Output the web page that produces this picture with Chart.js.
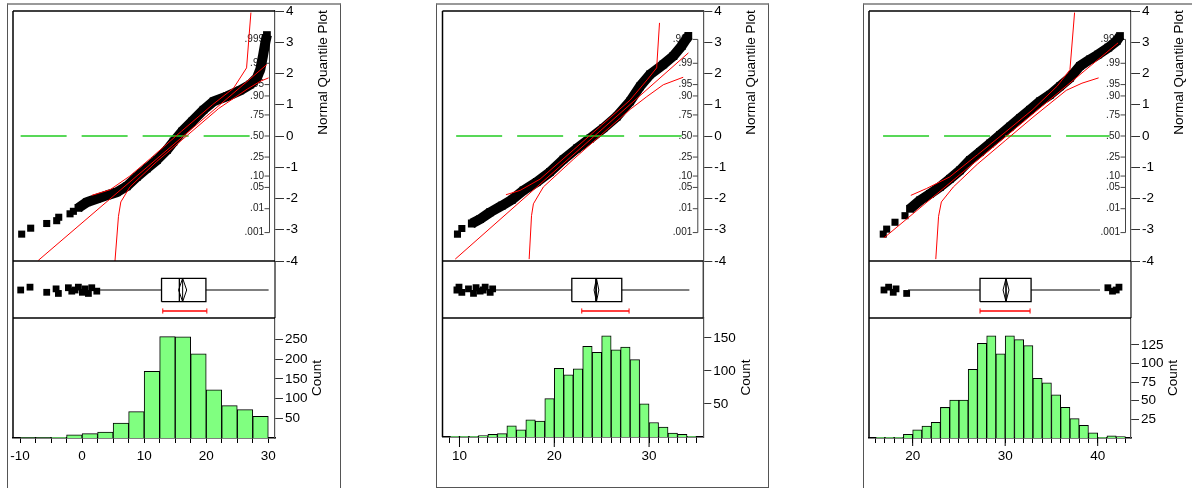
<!DOCTYPE html>
<html>
<head>
<meta charset="utf-8">
<title>Distributions</title>
<script src="https://cdn.jsdelivr.net/npm/chart.js@4.4.1/dist/chart.umd.min.js"></script>
<style>
  html, body { margin: 0; padding: 0; background: #fff; }
  body { position: relative; width: 1192px; height: 488px; overflow: hidden; }
  canvas { position: absolute; }
  .frame { position: absolute; box-sizing: border-box; border: 1px solid #555; border-top: 2px solid #999; }
</style>
</head>
<body>
<div class="frame" style="left:7px; top:3px; width:334px; height:560px;"></div>
<div class="frame" style="left:436px; top:3px; width:333px; height:485px;"></div>
<div class="frame" style="left:863px; top:3px; width:400px; height:560px;"></div>
<script>
// ---------- panel 1 ----------
const hist1Edges = [-10, -7.5, -5, -2.5, 0, 2.5, 5, 7.5, 10, 12.5, 15, 17.5, 20, 22.5, 25, 27.5, 30];
const hist1Counts = [1, 1, 2, 8, 11, 15, 38, 67, 169, 257, 256, 213, 122, 82, 72, 55];
const hist1Labels = [-10, 0, 10, 20, 30];
const count1Ticks = [50, 100, 150, 200, 250];

const quant1TailV = [-9.73, -8.28, -5.7, -4.09, -3.76, -1.94, -1.4];
const quant1TailQ = [-3.14, -2.95, -2.80, -2.71, -2.60, -2.49, -2.41];
const quant1V = [-0.59, 0.75, 2.37, 3.98, 5.59, 7.2, 8.82, 10.43, 12.05, 13.66, 14.73, 16.08, 17.69, 19.57, 21.18, 23.33, 25.48, 27.1, 28.17, 28.71, 29.14, 29.52, 29.78];
const quant1Q = [-2.30, -2.12, -2.01, -1.90, -1.80, -1.61, -1.31, -1.04, -0.77, -0.45, -0.18, 0.14, 0.46, 0.84, 1.11, 1.27, 1.46, 1.65, 1.86, 2.13, 2.56, 2.99, 3.23];
const fit1V = [-7.05, 29.78];
const fit1Q = [-3.98, 2.29];
const upper1V = [1.56, 4.5, 7.7, 11, 16, 21, 24.4, 26.5, 27.2];
const upper1Q = [-1.90, -1.72, -1.28, -0.72, 0.15, 1.0, 1.53, 2.18, 3.95];
const lower1V = [5.3, 5.86, 6.24, 7.7, 12, 17, 22, 26.6, 28.7, 30.05];
const lower1Q = [-4.0, -2.57, -2.11, -1.63, -0.82, 0.03, 0.88, 1.50, 1.75, 1.86];
const ref1V = [-9.9, 27.1];

const box1Stats = [2.9, 12.8, 15.67, 19.95, 30.05];   // whisker lo, q1, median, q3, whisker hi
const diamond1 = [15.55, 16.2, 16.85];
const short1 = [13.0, 20.1];
const outliers1 = [-9.89, -8.39, -5.7, -4.19, -3.82, -2.21, -1.66, -1.13, -0.6, 0.05, 0.48, 1.02, 1.56, 2.37];

// ---------- panel 2 ----------
const hist2Edges = [9, 10, 11, 12, 13, 14, 15, 16, 17, 18, 19, 20, 21, 22, 23, 24, 25, 26, 27, 28, 29, 30, 31, 32, 33, 34, 35];
const hist2Counts = [1, 1, 1, 2, 4, 5, 17, 11, 26, 24, 58, 104, 94, 103, 137, 128, 153, 132, 136, 117, 50, 22, 15, 6, 4, 1];
const hist2Labels = [10, 20, 30];
const count2Ticks = [50, 100, 150];

const quant2TailV = [9.79, 10.25];
const quant2TailQ = [-3.14, -2.96];
const quant2V = [11.3, 12.18, 13.24, 14.47, 15.52, 16.75, 18.16, 19.56, 20.97, 22.38, 23.78, 25.18, 26.59, 28.0, 29.05, 30.1, 31.5, 32.56, 33.44, 34.14];
const quant2Q = [-2.80, -2.66, -2.44, -2.23, -2.04, -1.74, -1.47, -1.15, -0.75, -0.40, -0.08, 0.25, 0.62, 1.11, 1.59, 1.97, 2.29, 2.56, 2.88, 3.20];
const fit2V = [9.55, 34.15];
const fit2Q = [-3.94, 2.66];
const upper2V = [14.9, 16.4, 18.5, 22, 25, 28, 29.8, 30.8, 31.1];
const upper2Q = [-1.88, -1.74, -1.38, -0.45, 0.35, 1.15, 1.8, 2.18, 3.62];
const lower2V = [17.35, 17.6, 17.8, 18.85, 22, 25, 28, 29.76, 31.5, 33.6];
const lower2Q = [-3.94, -2.55, -2.17, -1.63, -0.75, 0.05, 0.85, 1.26, 1.64, 1.88];
const ref2V = [9.65, 33.45];

const box2Stats = [13.76, 21.85, 24.38, 27.12, 34.25];
const diamond2 = [24.2, 24.45, 24.7];
const short2 = [22.9, 27.89];
const outliers2 = [9.73, 9.95, 10.25, 10.95, 11.48, 11.75, 12.18, 12.5, 12.71, 13.24, 13.5];

// ---------- panel 3 ----------
const hist3Edges = [16, 17, 18, 19, 20, 21, 22, 23, 24, 25, 26, 27, 28, 29, 30, 31, 32, 33, 34, 35, 36, 37, 38, 39, 40, 41, 42, 43];
const hist3Counts = [1, 1, 1, 5, 11, 16, 21, 41, 51, 51, 92, 127, 137, 113, 137, 132, 124, 80, 74, 58, 41, 26, 17, 7, 1, 3, 2];
const hist3Labels = [20, 30, 40];
const count3Ticks = [25, 50, 75, 100, 125];

const quant3TailV = [16.82, 17.19, 18.09, 19.17];
const quant3TailQ = [-3.14, -2.98, -2.76, -2.55];
const quant3V = [19.71, 20.79, 21.87, 22.95, 24.03, 25.11, 26.19, 27.28, 28.36, 29.44, 30.52, 31.6, 32.68, 33.76, 34.84, 35.92, 37.0, 38.08, 39.16, 40.06, 41.15, 42.05, 42.41];
const quant3Q = [-2.33, -2.06, -1.85, -1.63, -1.37, -1.10, -0.77, -0.51, -0.24, 0.03, 0.30, 0.57, 0.84, 1.11, 1.32, 1.59, 1.86, 2.24, 2.45, 2.61, 2.83, 3.04, 3.20];
const fit3V = [16.9, 42.2];
const fit3Q = [-3.26, 2.98];
const upper3V = [19.8, 21.5, 24.0, 27, 30, 33, 35.6, 37.0, 37.5];
const upper3Q = [-1.9, -1.68, -1.31, -0.6, 0.12, 0.85, 1.59, 2.12, 3.95];
const lower3V = [22.5, 22.8, 23.1, 24.4, 27, 30, 33, 36.6, 38.3, 40.1];
const lower3Q = [-3.94, -2.57, -2.11, -1.63, -0.9, -0.15, 0.6, 1.46, 1.69, 1.86];
const ref3V = [16.8, 41.3];

const box3Stats = [19.5, 27.28, 30.09, 32.8, 40.25];
const diamond3 = [29.77, 30.09, 30.41];
const short3 = [27.28, 32.69];
const outliers3 = [16.9, 17.4, 17.9, 18.2, 19.35, 41.1, 41.6, 42.0, 42.3];

// probability scale shown inside the quantile plot
const probLevels = [0.001, 0.01, 0.05, 0.10, 0.25, 0.50, 0.75, 0.90, 0.95, 0.99, 0.999];
const probLabels = ['.001', '.01', '.05', '.10', '.25', '.50', '.75', '.90', '.95', '.99', '.999'];

const FONT = 'Arial, "Liberation Sans", sans-serif';
Chart.defaults.font.family = FONT;
Chart.defaults.font.size = 13.5;
Chart.defaults.color = '#000';
Chart.defaults.animation = false;
Chart.defaults.events = [];
Chart.defaults.plugins.legend.display = false;
Chart.defaults.plugins.tooltip.enabled = false;

// layout of the three panels (pixels)
const Q_TOP = 11, Q_BOT = 261, B_BOT = 318;
const panels = [
  { canvasR: 340, plotL: 13, plotR: 275, histBot: 438, xMin: -11.13, xMax: 31.08, countMax: 304, minorLen: 5, majorLen: 5,
    edges: hist1Edges, counts: hist1Counts, labels: hist1Labels, countTicks: count1Ticks,
    bandV: quant1V, bandQ: quant1Q, tailV: quant1TailV, tailQ: quant1TailQ, fitV: fit1V, fitQ: fit1Q,
    upV: upper1V, upQ: upper1Q, loV: lower1V, loQ: lower1Q, refV: ref1V,
    box: box1Stats, diamond: diamond1, shortest: short1, outliers: outliers1 },
  { canvasR: 768, plotL: 442.5, plotR: 703.3, histBot: 437, xMin: 8.21, xMax: 35.72, countMax: 180, minorLen: 6, majorLen: 10,
    edges: hist2Edges, counts: hist2Counts, labels: hist2Labels, countTicks: count2Ticks,
    bandV: quant2V, bandQ: quant2Q, tailV: quant2TailV, tailQ: quant2TailQ, fitV: fit2V, fitQ: fit2Q,
    upV: upper2V, upQ: upper2Q, loV: lower2V, loQ: lower2Q, refV: ref2V,
    box: box2Stats, diamond: diamond2, shortest: short2, outliers: outliers2 },
  { canvasR: 1192, plotL: 869, plotR: 1131, histBot: 438, xMin: 15.28, xMax: 43.6, countMax: 161, minorLen: 5, majorLen: 8,
    edges: hist3Edges, counts: hist3Counts, labels: hist3Labels, countTicks: count3Ticks,
    bandV: quant3V, bandQ: quant3Q, tailV: quant3TailV, tailQ: quant3TailQ, fitV: fit3V, fitQ: fit3Q,
    upV: upper3V, upQ: upper3Q, loV: lower3V, loQ: lower3Q, refV: ref3V,
    box: box3Stats, diamond: diamond3, shortest: short3, outliers: outliers3 }
];

// box plot vertical levels (fraction of the box strip)
const BOX_TOP = 0.696, BOX_BOT = 0.286, BOX_MID = 0.491, SHORT_Y = 0.123, CAP = 0.045;
const JITTER = [0, 0.05, -0.04, 0.02, -0.06, 0.04, -0.02];

function invNorm(p) {
  // Abramowitz & Stegun 26.2.23
  const lowSide = p < 0.5;
  const pp = lowSide ? p : 1 - p;
  const t = Math.sqrt(-2 * Math.log(pp));
  const z = t - (2.515517 + 0.802853 * t + 0.010328 * t * t) / (1 + 1.432788 * t + 0.189269 * t * t + 0.001308 * t * t * t);
  return lowSide ? -z : z;
}

function pts(xs, ys) {
  return xs.map((x, i) => ({ x: x, y: ys[i] }));
}

function addCanvas(left, top, w, h) {
  const c = document.createElement('canvas');
  c.width = w; c.height = h;
  c.style.left = left + 'px';
  c.style.top = top + 'px';
  c.style.width = w + 'px';
  c.style.height = h + 'px';
  document.body.appendChild(c);
  return c;
}

function line(ctx, x0, y0, x1, y1, color, width) {
  ctx.save();
  ctx.strokeStyle = color;
  ctx.lineWidth = width;
  ctx.beginPath();
  ctx.moveTo(x0, y0);
  ctx.lineTo(x1, y1);
  ctx.stroke();
  ctx.restore();
}

function rotText(ctx, text, x, y) {
  ctx.save();
  ctx.translate(x, y);
  ctx.rotate(-Math.PI / 2);
  ctx.font = '13.5px ' + FONT;
  ctx.fillStyle = '#000';
  ctx.textAlign = 'center';
  ctx.textBaseline = 'middle';
  ctx.fillText(text, 0, 0);
  ctx.restore();
}

function lineSet(data, color, width, order, extra) {
  return Object.assign({ data: data, showLine: true, borderColor: color, borderWidth: width, pointRadius: 0, fill: false, order: order }, extra || {});
}

function quantileChart(p) {
  const cl = Math.round(p.plotL) - 12, ct = -10;
  const cw = p.canvasR - cl, ch = 290;
  const canvas = addCanvas(cl, ct, cw, ch);
  const areaR = p.plotR - cl;
  new Chart(canvas, {
    type: 'scatter',
    data: {
      datasets: [
        lineSet(pts(p.fitV, p.fitQ), '#ff0000', 1, 0),
        lineSet(pts(p.upV, p.upQ), '#ff0000', 1, 0),
        lineSet(pts(p.loV, p.loQ), '#ff0000', 1, 0),
        lineSet(pts(p.refV, [0, 0]), '#22cc22', 1.3, 1, { borderDash: [46, 15] }),
        lineSet(pts(p.bandV, p.bandQ), '#000', 10, 2, { pointStyle: 'rect', pointRadius: 5.5, pointBackgroundColor: '#000', pointBorderWidth: 0, borderJoinStyle: 'bevel' }),
        { data: pts(p.tailV, p.tailQ), showLine: false, pointStyle: 'rect', pointRadius: 5, pointBackgroundColor: '#000', pointBorderWidth: 0, order: 2 }
      ]
    },
    options: {
      responsive: false,
      devicePixelRatio: 1,
      layout: { padding: { left: p.plotL - cl, top: Q_TOP - ct, bottom: ct + ch - Q_BOT, right: 0 } },
      scales: {
        x: { type: 'linear', display: false, min: p.xMin, max: p.xMax },
        y: {
          position: 'right', min: -4, max: 4,
          afterFit: s => { s.width = cw - areaR; },
          ticks: { stepSize: 1, padding: 2, color: '#000' },
          grid: { drawOnChartArea: false, tickLength: 9, tickColor: '#333' },
          border: { color: '#555', width: 1.2 }
        }
      }
    },
    plugins: [{
      id: 'quantDecor',
      beforeDatasetsDraw(chart) {
        const ctx = chart.ctx, a = chart.chartArea, ys = chart.scales.y;
        const ax = a.right - 5.5;
        line(ctx, ax, ys.getPixelForValue(invNorm(0.001)), ax, ys.getPixelForValue(invNorm(0.999)), '#444', 1);
        ctx.save();
        ctx.font = '10px ' + FONT;
        ctx.fillStyle = '#222';
        ctx.textAlign = 'right';
        ctx.textBaseline = 'middle';
        probLevels.forEach((pr, i) => {
          const y = ys.getPixelForValue(invNorm(pr));
          line(ctx, ax - 5, y, ax, y, '#444', 1);
          ctx.fillText(probLabels[i], ax - 5.5, y);
        });
        ctx.restore();
      },
      afterDraw(chart) {
        const ctx = chart.ctx, a = chart.chartArea;
        line(ctx, a.left, a.top, a.right, a.top, '#000', 1.5);
        line(ctx, a.left, a.top, a.left, a.bottom, '#000', 1.5);
        line(ctx, a.left, a.bottom, a.right, a.bottom, '#000', 1.5);
        rotText(ctx, 'Normal Quantile Plot', p.plotR + 48.3 - cl, 72.5 - ct);
      }
    }]
  });
}

function boxChart(p) {
  const cl = Math.round(p.plotL) - 12, ct = 250;
  const cw = Math.round(p.plotR - cl) + 12, ch = 80;
  const canvas = addCanvas(cl, ct, cw, ch);
  const wLo = p.box[0], q1 = p.box[1], med = p.box[2], q3 = p.box[3], wHi = p.box[4];
  const mLo = p.diamond[0], mean = p.diamond[1], mHi = p.diamond[2];
  const sLo = p.shortest[0], sHi = p.shortest[1];
  new Chart(canvas, {
    type: 'scatter',
    data: {
      datasets: [
        lineSet([{ x: wLo, y: BOX_MID }, { x: q1, y: BOX_MID }], '#555', 1.3, 3),
        lineSet([{ x: q3, y: BOX_MID }, { x: wHi, y: BOX_MID }], '#555', 1.3, 3),
        lineSet([{ x: q1, y: BOX_BOT }, { x: q3, y: BOX_BOT }, { x: q3, y: BOX_TOP }, { x: q1, y: BOX_TOP }, { x: q1, y: BOX_BOT }], '#000', 1.3, 1),
        lineSet([{ x: med, y: BOX_BOT }, { x: med, y: BOX_TOP }], '#000', 1.3, 1),
        lineSet([{ x: mean, y: BOX_BOT }, { x: mean, y: BOX_TOP }], '#000', 1, 1),
        lineSet([{ x: mLo, y: BOX_MID }, { x: mean, y: BOX_TOP }, { x: mHi, y: BOX_MID }, { x: mean, y: BOX_BOT }, { x: mLo, y: BOX_MID }], '#000', 1, 1),
        lineSet([{ x: sLo, y: SHORT_Y }, { x: sHi, y: SHORT_Y }], '#ff0000', 1.3, 1),
        lineSet([{ x: sLo, y: SHORT_Y - CAP }, { x: sLo, y: SHORT_Y + CAP }], '#ff0000', 1, 1),
        lineSet([{ x: sHi, y: SHORT_Y - CAP }, { x: sHi, y: SHORT_Y + CAP }], '#ff0000', 1, 1),
        { data: p.outliers.map((v, i) => ({ x: v, y: BOX_MID + JITTER[i % JITTER.length] })), showLine: false,
          pointStyle: 'rect', pointRadius: 4.8, pointBackgroundColor: '#000', pointBorderWidth: 0, order: 0 }
      ]
    },
    options: {
      responsive: false,
      devicePixelRatio: 1,
      layout: { padding: { left: p.plotL - cl, right: cw - (p.plotR - cl), top: Q_BOT - ct, bottom: ct + ch - B_BOT } },
      scales: {
        x: { type: 'linear', display: false, min: p.xMin, max: p.xMax },
        y: { type: 'linear', display: false, min: 0, max: 1 }
      }
    },
    plugins: [{
      id: 'boxDecor',
      afterDraw(chart) {
        const ctx = chart.ctx, a = chart.chartArea;
        line(ctx, a.left, a.top, a.left, a.bottom, '#000', 1.5);
        line(ctx, a.right, a.top, a.right, a.bottom, '#444', 1.5);
        line(ctx, a.left, a.bottom, a.right, a.bottom, '#000', 1.5);
      }
    }]
  });
}

function histChart(p) {
  const cl = Math.round(p.plotL) - 12, ct = 290;
  const cw = p.canvasR - cl, ch = 488 - ct;
  const canvas = addCanvas(cl, ct, cw, ch);
  const areaR = p.plotR - cl;
  const AXIS_H = 40;
  const centers = p.counts.map((c, i) => (p.edges[i] + p.edges[i + 1]) / 2);
  new Chart(canvas, {
    type: 'bar',
    data: {
      datasets: [{
        data: pts(centers, p.counts),
        backgroundColor: '#80ff80',
        borderColor: '#000',
        borderWidth: 1,
        barPercentage: 1,
        categoryPercentage: 1,
        grouped: false
      }]
    },
    options: {
      responsive: false,
      devicePixelRatio: 1,
      layout: { padding: { left: p.plotL - cl, top: B_BOT - ct, bottom: 488 - p.histBot - AXIS_H, right: 0 } },
      scales: {
        x: {
          type: 'linear', min: p.xMin, max: p.xMax, offset: false,
          afterFit: s => { s.height = AXIS_H; },
          afterBuildTicks: s => { s.ticks = p.edges.map(v => ({ value: v })); },
          ticks: { autoSkip: false, maxRotation: 0, padding: 5, color: '#000',
                   callback: v => (p.labels.includes(v) ? String(v) : '') },
          grid: { drawOnChartArea: false, offset: false, tickLength: p.minorLen, tickColor: '#000' },
          border: { color: '#000', width: 1.5 }
        },
        y: {
          type: 'linear', position: 'right', min: 0, max: p.countMax,
          afterFit: s => { s.width = cw - areaR; },
          afterBuildTicks: s => { s.ticks = p.countTicks.map(v => ({ value: v })); },
          ticks: { padding: 2, color: '#000' },
          grid: { drawOnChartArea: false, tickLength: 8, tickColor: '#333' },
          border: { color: '#555', width: 1.2 }
        }
      }
    },
    plugins: [{
      id: 'histDecor',
      afterDraw(chart) {
        const ctx = chart.ctx, a = chart.chartArea, xs = chart.scales.x;
        line(ctx, a.left, a.top, a.left, a.bottom, '#000', 1.5);
        if (p.majorLen > p.minorLen) {
          p.labels.forEach(v => {
            const x = xs.getPixelForValue(v);
            line(ctx, x, a.bottom, x, a.bottom + p.majorLen, '#000', 1);
          });
        }
        rotText(ctx, 'Count', p.plotR + 42.7 - cl, (B_BOT + p.histBot) / 2 - ct);
      }
    }]
  });
}

panels.forEach(p => {
  histChart(p);
  boxChart(p);
  quantileChart(p);
});
</script>
</body>
</html>
